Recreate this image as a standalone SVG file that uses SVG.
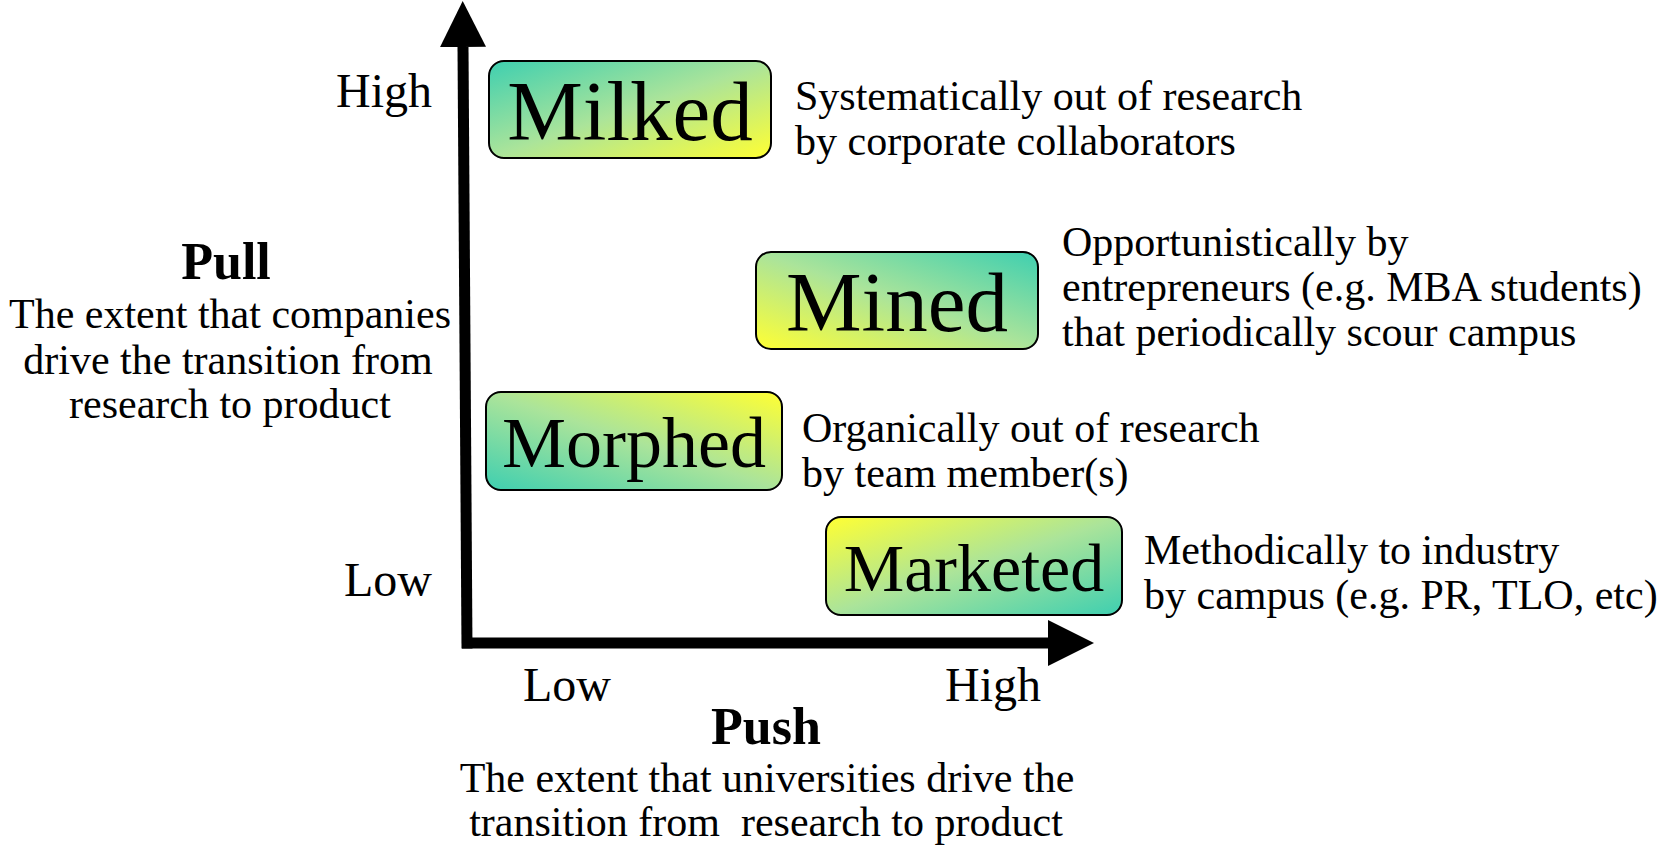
<svg xmlns="http://www.w3.org/2000/svg" width="1665" height="846" viewBox="0 0 1665 846">
  <style>
    text { font-family: "Liberation Serif", "Times New Roman", serif; fill: #000; }
    .axis { font-size: 48px; }
    .desc { font-size: 42px; }
    .title { font-size: 52px; font-weight: bold; }
    .box { stroke: #000; stroke-width: 2; }
    .big { font-size: 85px; text-anchor: middle; }
    .shaft { stroke: #000; stroke-width: 11; fill: none; }
    .teal { stop-color: #3ecfb0; }
    .mid { stop-color: #abe49a; }
    .yel { stop-color: #ffff33; }
  </style>
  <defs>
    <linearGradient id="gTL" x1="0" y1="0" x2="1" y2="1">
      <stop offset="0" class="teal"/>
      <stop offset="0.5" class="mid"/>
      <stop offset="1" class="yel"/>
    </linearGradient>
    <linearGradient id="gMined" x1="0" y1="1" x2="1" y2="0">
      <stop offset="0" class="yel"/>
      <stop offset="0.5" class="mid"/>
      <stop offset="1" class="teal"/>
    </linearGradient>
    <linearGradient id="gMorphed" x1="0" y1="1" x2="1" y2="0">
      <stop offset="0" class="teal"/>
      <stop offset="0.5" class="mid"/>
      <stop offset="1" class="yel"/>
    </linearGradient>
    <linearGradient id="gMarketed" x1="0" y1="0" x2="1" y2="1">
      <stop offset="0" class="yel"/>
      <stop offset="0.5" class="mid"/>
      <stop offset="1" class="teal"/>
    </linearGradient>
    <marker id="arrow" markerUnits="userSpaceOnUse" markerWidth="46" markerHeight="46" viewBox="0 0 46 46" refX="0" refY="23" orient="auto">
      <path d="M0,0 L46,23 L0,46 z" fill="#000"/>
    </marker>
  </defs>

  <g id="connectors">
    <line class="shaft" x1="467" y1="648.5" x2="463" y2="47" marker-end="url(#arrow)"/>
    <line class="shaft" x1="462" y1="643" x2="1048" y2="643" marker-end="url(#arrow)"/>
  </g>

  <g id="axis-labels">
    <text class="axis" x="432" y="107" text-anchor="end">High</text>
    <text class="axis" x="432" y="596" text-anchor="end">Low</text>
    <text class="axis" x="567" y="701" text-anchor="middle">Low</text>
    <text class="axis" x="993" y="701" text-anchor="middle">High</text>
  </g>

  <g id="pull">
    <text class="title" x="226" y="279" text-anchor="middle">Pull</text>
    <text class="desc" x="230" y="328" text-anchor="middle">The extent that companies</text>
    <text class="desc" x="228" y="374" text-anchor="middle">drive the transition from</text>
    <text class="desc" x="230" y="418" text-anchor="middle">research to product</text>
  </g>

  <g id="push">
    <text class="title" x="766" y="744" text-anchor="middle">Push</text>
    <text class="desc" x="767" y="792" text-anchor="middle">The extent that universities drive the</text>
    <text class="desc" x="766" y="836" text-anchor="middle" xml:space="preserve">transition from  research to product</text>
  </g>

  <g id="milked">
    <rect class="box" x="489" y="61" width="282" height="97" rx="15" fill="url(#gTL)"/>
    <text class="big" x="630" y="140">Milked</text>
    <text class="desc" x="795" y="110">Systematically out of research</text>
    <text class="desc" x="795" y="155">by corporate collaborators</text>
  </g>

  <g id="mined">
    <rect class="box" x="756" y="252" width="282" height="97" rx="15" fill="url(#gMined)"/>
    <text class="big" x="897" y="331">Mined</text>
    <text class="desc" x="1062" y="256">Opportunistically by</text>
    <text class="desc" x="1062" y="301">entrepreneurs (e.g. MBA students)</text>
    <text class="desc" x="1062" y="346">that periodically scour campus</text>
  </g>

  <g id="morphed">
    <rect class="box" x="486" y="392" width="296" height="98" rx="15" fill="url(#gMorphed)"/>
    <text class="big" x="634" y="467" style="font-size:72px">Morphed</text>
    <text class="desc" x="802" y="442">Organically out of research</text>
    <text class="desc" x="802" y="487">by team member(s)</text>
  </g>

  <g id="marketed">
    <rect class="box" x="826" y="517" width="296" height="98" rx="15" fill="url(#gMarketed)"/>
    <text class="big" x="974" y="591" style="font-size:68px">Marketed</text>
    <text class="desc" x="1144" y="564">Methodically to industry</text>
    <text class="desc" x="1144" y="609">by campus (e.g. PR, TLO, etc)</text>
  </g>
</svg>
